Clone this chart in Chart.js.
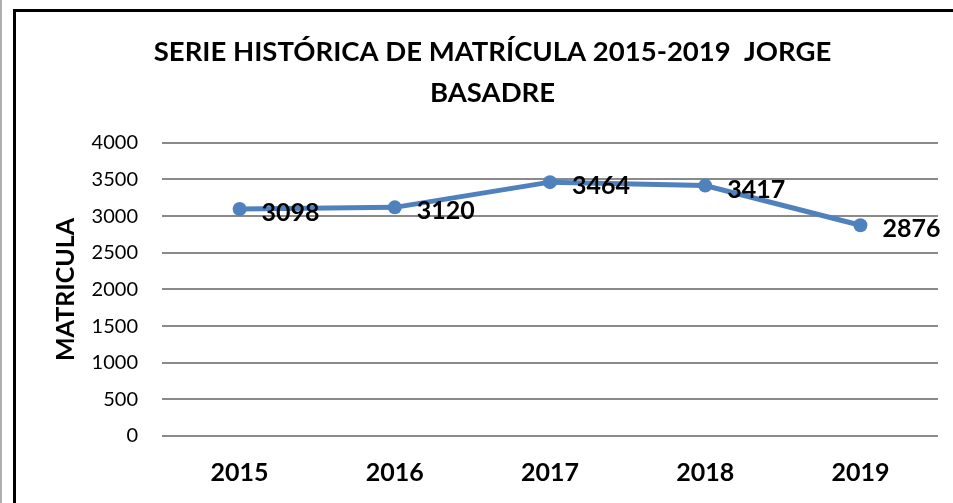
<!DOCTYPE html>
<html>
<head>
<meta charset="utf-8">
<script src="https://cdn.jsdelivr.net/npm/chart.js@4"></script>
<style>
  body { margin: 0; background: #fff; }
  #wrap { position: relative; width: 953px; height: 503px; overflow: hidden; }
  #chart { position: absolute; left: 0; top: 0; }
  #edge { position: absolute; left: 0; top: 0; width: 2px; height: 503px; background: #b0b0b0; }
  #frame { position: absolute; left: 13px; top: 9px; width: 960px; height: 520px; border-left: 3px solid #000; border-top: 3px solid #000; }
</style>
</head>
<body>
<div id="wrap">
  <canvas id="chart" width="953" height="503"></canvas>
  <div id="edge"></div>
  <div id="frame"></div>
</div>
<script>
const years = ["2015", "2016", "2017", "2018", "2019"];
const matricula = [3098, 3120, 3464, 3417, 2876];
const yTicks = [0, 500, 1000, 1500, 2000, 2500, 3000, 3500, 4000];

const FONT = "Lato, 'Open Sans', sans-serif";

// data labels to the right of each point
const pointLabels = {
  id: 'pointLabels',
  afterDatasetsDraw(chart) {
    const ctx = chart.ctx;
    const meta = chart.getDatasetMeta(0);
    ctx.save();
    ctx.font = "bold 25px " + FONT;
    ctx.fillStyle = "#000";
    ctx.textAlign = "left";
    ctx.textBaseline = "middle";
    meta.data.forEach((pt, i) => {
      ctx.fillText(String(matricula[i]), pt.x + 22, pt.y + 4);
    });
    ctx.restore();
  }
};

const ctx = document.getElementById("chart");
const chart = new Chart(ctx, {
  type: 'line',
  data: {
    labels: years,
    datasets: [{
      label: "Matricula",
      data: matricula,
      borderColor: "#4F81BD",
      backgroundColor: "#4F81BD",
      borderWidth: 5,
      pointRadius: 7,
      pointBorderWidth: 0,
      pointBackgroundColor: "#4F81BD",
      tension: 0,
    }]
  },
  options: {
    responsive: false,
    animation: false,
    layout: {
      padding: { left: 47, right: 15, top: 0, bottom: 0 }
    },
    plugins: {
      legend: { display: false },
      tooltip: { enabled: false },
      title: {
        display: true,
        text: ["SERIE HISTÓRICA DE MATRÍCULA 2015-2019  JORGE", "BASADRE"],
        color: "#000",
        font: { family: FONT, size: 27.5, weight: "bold", lineHeight: 1.47 },
        padding: { top: 32, bottom: 30 },
      },
    },
    scales: {
      x: {
        offset: true,
        grid: { display: false, drawTicks: false },
        border: { display: false },
        ticks: {
          color: "#000",
          padding: 22,
          font: { family: FONT, size: 25, weight: "bold" },
        },
        afterFit(scale) { scale.height = 67; }
      },
      y: {
        min: 0,
        max: 4000,
        afterBuildTicks(scale) { scale.ticks = yTicks.map(v => ({ value: v })); },
        grid: { color: "#8a8a8a", lineWidth: 2, drawTicks: false },
        border: { display: false },
        ticks: {
          color: "#000",
          padding: 24,
          font: { family: FONT, size: 20 },
          callback: (v) => String(v),
        },
        title: {
          display: true,
          text: "MATRICULA",
          color: "#000",
          font: { family: FONT, size: 25, weight: "bold" },
          padding: 4,
        },
        afterFit(scale) { scale.width = 115; }
      }
    }
  },
  plugins: [pointLabels]
});
</script>
</body>
</html>
